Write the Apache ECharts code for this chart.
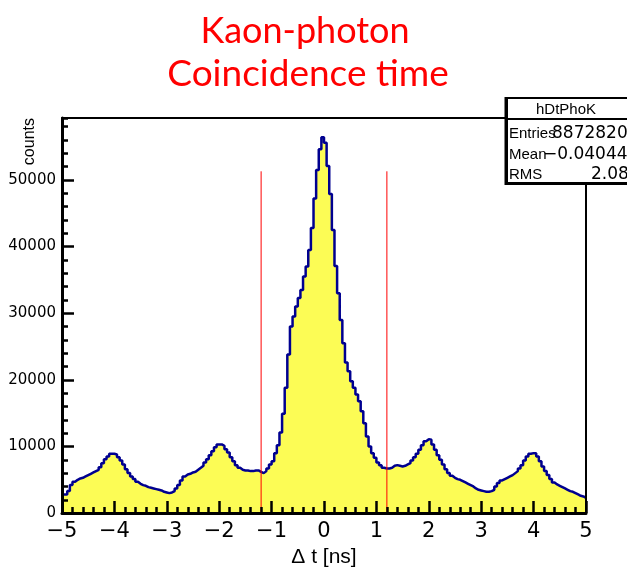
<!DOCTYPE html>
<html><head><meta charset="utf-8">
<script src="https://cdn.jsdelivr.net/npm/echarts@6/dist/echarts.min.js"></script>
<style>html,body{margin:0;padding:0;background:#fff}#c{width:627px;height:573px}</style>
</head><body><div id="c"></div>
<script>
// Histogram: 200 bins of 0.05 ns from -5 to 5
const xMin = -5, xMax = 5, binWidth = 0.05;
const counts = [
  // -5 .. -4
  2800,2800,3300,4200,4700,5000,5200,5300,5500,5700,5900,6100,6300,6500,6900,7500,8100,8500,8900,8900,
  // -4 .. -3
  8800,8400,7900,7300,6600,6000,5500,5100,4700,4400,4200,4100,3900,3800,3700,3600,3500,3400,3200,3100,
  // -3 .. -2
  3000,3100,3300,3700,4200,4900,5500,5800,5900,6100,6200,6500,6800,7100,7600,8100,8700,9300,9900,10300,
  // -2 .. -1
  10300,10100,9600,9100,8400,7800,7200,6800,6500,6400,6400,6300,6300,6400,6400,6200,6000,6300,6700,7300,
  // -1 .. 0
  7800,9000,10200,12100,14900,18800,23800,28000,29500,31000,32300,33500,35500,37000,39500,42800,47200,51500,54600,56400,
  // 0 .. 1
  55600,52100,47900,42500,37100,33000,29000,25500,22600,21300,19800,18800,17800,16800,15300,13500,11500,10000,9000,8300,
  // 1 .. 2
  7600,7200,6800,6700,6700,6800,7100,7200,7100,7000,7100,7300,7500,7900,8400,8900,9500,10200,10800,11100,
  // 2 .. 3
  11000,10300,9500,8700,8000,7300,6600,6000,5600,5300,5100,5000,4800,4600,4400,4200,4000,3700,3500,3400,
  // 3 .. 4
  3300,3200,3200,3300,3500,4000,4500,4900,5100,5300,5500,5700,6000,6300,6700,7200,7900,8500,8900,9000,
  // 4 .. 5
  9000,8500,7800,7000,6300,5700,5100,4600,4300,4100,3900,3700,3500,3300,3200,3000,2800,2600,2500,2300
];
const cutLines = [-1.2, 1.2];
const cutHeight = 51300;
const yMax = 59300;
const titleLines = ['Kaon-photon', 'Coincidence time'];
const xAxisName = 'Δ t [ns]';
const yAxisName = 'counts';
const statsTitle = 'hDtPhoK';
const statsLabels = ['Entries', 'Mean', 'RMS'];
const statsValues = ['8872820', '\u22120.04044', '2.083'];

const histData = counts.map((v, i) => [xMin + i * binWidth, v]);
histData.push([xMax, counts[counts.length - 1]]);

const minus = s => String(s).replace('-', '\u2212');
const chart = echarts.init(document.getElementById('c'), null, {renderer: 'canvas'});
const statsTexts = [];
const rowY = [134, 155, 175];
const valX = [552, 543, 591];
statsLabels.forEach((lab, k) => {
  statsTexts.push({type: 'text', z: 101, style: {x: 509, y: rowY[k], text: lab, align: 'left', verticalAlign: 'middle', font: '15px "Liberation Sans"', fill: '#000'}});
  statsTexts.push({type: 'text', z: 101, style: {x: valX[k], y: rowY[k], text: statsValues[k], align: 'left', verticalAlign: 'middle', font: '17px "DejaVu Sans"', fill: '#000'}});
});

const frameAxisStyle = {color: '#000', width: 2};
chart.setOption({
  animation: false,
  backgroundColor: '#fff',
  grid: {left: 62, right: 41, top: 118, bottom: 54, show: false},
  xAxis: [{
    type: 'value', min: xMin, max: xMax, interval: 1, z: 10, position: 'bottom',
    name: xAxisName, nameLocation: 'middle', nameGap: 30,
    nameTextStyle: {fontFamily: 'Liberation Sans', fontSize: 21, color: '#000'},
    axisLine: {show: true, onZero: false, lineStyle: {color: '#000', width: 3}},
    axisTick: {show: true, inside: true, length: 12, lineStyle: {color: '#000', width: 2.5}},
    minorTick: {show: true, splitNumber: 5, length: 6, lineStyle: {color: '#000', width: 2.5}},
    axisLabel: {margin: 8, fontFamily: 'DejaVu Sans', fontSize: 21, color: '#000', formatter: v => minus(v)},
    splitLine: {show: false}, minorSplitLine: {show: false}
  }, {
    type: 'value', min: xMin, max: xMax, position: 'top', z: 10,
    axisLine: {show: true, onZero: false, lineStyle: frameAxisStyle},
    axisTick: {show: false}, axisLabel: {show: false}, splitLine: {show: false}
  }],
  yAxis: [{
    type: 'value', min: 0, max: yMax, interval: 10000, z: 10, position: 'left',
    axisLine: {show: true, onZero: false, lineStyle: {color: '#000', width: 3}},
    axisTick: {show: true, inside: true, length: 12, lineStyle: {color: '#000', width: 2.5}},
    axisLabel: {margin: 6, fontFamily: 'DejaVu Sans', fontSize: 15, color: '#000', showMaxLabel: false,
      formatter: v => (v % 10000 === 0 ? String(v) : '')},
    splitLine: {show: false}
  }, {
    type: 'value', min: 0, max: yMax, interval: 2000, position: 'left', offset: 0, z: 10,
    axisLine: {show: false, onZero: false},
    axisTick: {show: true, inside: true, length: 6, lineStyle: {color: '#000', width: 2.5}},
    axisLabel: {show: false},
    splitLine: {show: false}
  }, {
    type: 'value', min: 0, max: yMax, position: 'right', z: 10,
    axisLine: {show: true, onZero: false, lineStyle: frameAxisStyle},
    axisTick: {show: false}, axisLabel: {show: false}, splitLine: {show: false}
  }],
  series: [{
    type: 'line', step: 'end', data: histData, symbol: 'none', xAxisIndex: 0, yAxisIndex: 0,
    lineStyle: {color: '#000090', width: 2.5},
    areaStyle: {color: '#fcfc55', opacity: 1},
    z: 2
  }].concat(cutLines.map(c => ({
    type: 'line', data: [[c, 0], [c, cutHeight]], symbol: 'none', xAxisIndex: 0, yAxisIndex: 0,
    lineStyle: {color: '#ff0000', width: 1}, z: 3
  }))),
  graphic: [
    {type: 'text', z: 100, style: {x: 305, y: 31, text: titleLines[0], align: 'center', verticalAlign: 'middle', font: '36px Lato', fill: '#ff0000'}},
    {type: 'text', z: 100, style: {x: 308, y: 74, text: titleLines[1], align: 'center', verticalAlign: 'middle', font: '37px Lato', fill: '#ff0000'}},
    {type: 'text', z: 100, rotation: Math.PI / 2, x: 30, y: 118, style: {x: 0, y: 0, text: yAxisName, align: 'right', verticalAlign: 'middle', font: '16px "Liberation Sans"', fill: '#000'}},
    {type: 'rect', z: 100, shape: {x: 507, y: 98, width: 140, height: 85}, style: {fill: '#fff', stroke: '#000', lineWidth: 2}},
    {type: 'line', z: 100, shape: {x1: 507, y1: 119, x2: 647, y2: 119}, style: {stroke: '#000', lineWidth: 2}},
    {type: 'line', z: 100, shape: {x1: 506, y1: 97, x2: 506, y2: 185}, style: {stroke: '#000', lineWidth: 3}},
    {type: 'line', z: 100, shape: {x1: 505, y1: 183.5, x2: 647, y2: 183.5}, style: {stroke: '#000', lineWidth: 3}},
    {type: 'text', z: 101, style: {x: 566, y: 110, text: statsTitle, align: 'center', verticalAlign: 'middle', font: '15px "Liberation Sans"', fill: '#000'}}
  ].concat(statsTexts)
});
</script>
</body></html>
